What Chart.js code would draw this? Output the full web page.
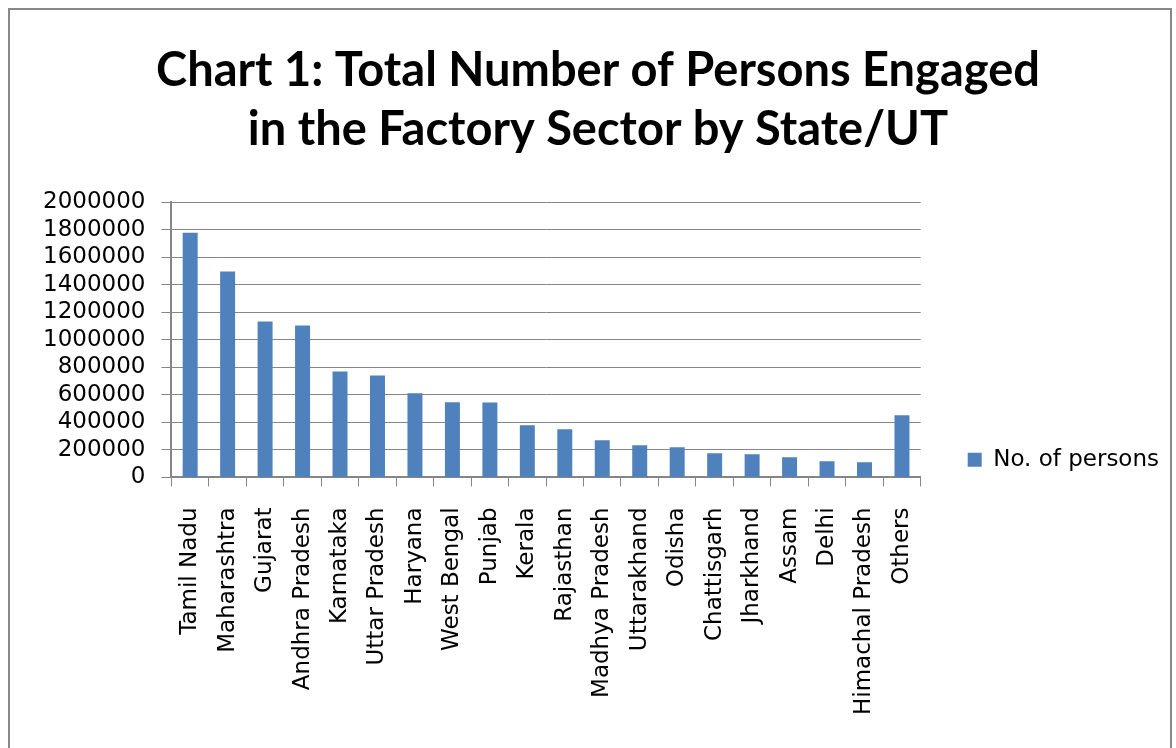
<!DOCTYPE html>
<html>
<head>
<meta charset="utf-8">
<script src="https://cdn.jsdelivr.net/npm/chart.js@4.4.1/dist/chart.umd.min.js"></script>
<style>
  body { margin: 0; background: #fff; }
  #frame {
    position: absolute; left: 8px; top: 8px;
    width: 1160px; height: 760px;
    border: 2px solid #888;
  }
  #wrap { position: absolute; left: 0; top: 0; width: 1160px; height: 738px; }
</style>
</head>
<body>
<div id="frame"><div id="wrap"><canvas id="chart"></canvas></div></div>
<script>
// categories and values
const states = ['Tamil Nadu', 'Maharashtra', 'Gujarat', 'Andhra Pradesh', 'Karnataka',
  'Uttar Pradesh', 'Haryana', 'West Bengal', 'Punjab', 'Kerala', 'Rajasthan',
  'Madhya Pradesh', 'Uttarakhand', 'Odisha', 'Chattisgarh', 'Jharkhand', 'Assam',
  'Delhi', 'Himachal Pradesh', 'Others'];
const persons = [1777000, 1495000, 1133000, 1104000, 770000, 741000, 611000, 546000,
  545000, 379000, 350000, 270000, 234000, 220000, 176000, 169000, 147000, 118000,
  111000, 451000];
const titleLines = ['Chart 1: Total Number of Persons Engaged', 'in the Factory Sector by State/UT'];

const labelFont = { family: 'DejaVu Sans', size: 23 };
const gridGray = '#868686';

const ctx = document.getElementById('chart').getContext('2d');
new Chart(ctx, {
  type: 'bar',
  data: {
    labels: states,
    datasets: [{
      label: 'No. of persons',
      data: persons,
      backgroundColor: '#4F81BD',
      barPercentage: 0.4,
      categoryPercentage: 1.0
    }]
  },
  options: {
    responsive: true,
    maintainAspectRatio: false,
    animation: false,
    layout: { padding: { left: 17, right: 1, top: 0, bottom: 12 } },
    plugins: {
      title: {
        display: true,
        text: titleLines,
        color: '#000',
        font: { family: 'Lato', size: 47, weight: 'bold', lineHeight: '59px' },
        padding: { top: 31, bottom: 43 }
      },
      legend: {
        position: 'right',
        align: 'start',
        fullSize: false,
        // blank legend title only pushes the entry down next to the lower bars
        title: { display: true, text: ' ', font: { size: 12 }, padding: { top: 184.8, bottom: 0 } },
        labels: {
          color: '#000',
          font: labelFont,
          boxWidth: 14,
          boxHeight: 14,
          padding: 47
        }
      },
      tooltip: { enabled: false }
    },
    scales: {
      x: {
        grid: { drawOnChartArea: false, offset: true, color: gridGray, tickLength: 9, lineWidth: 1 },
        border: { color: gridGray, width: 2 },
        ticks: { color: '#000', font: labelFont, minRotation: 90, maxRotation: 90, autoSkip: false, padding: 21 }
      },
      y: {
        min: 0,
        max: 2000000,
        grid: { color: gridGray, tickLength: 10, lineWidth: 1 },
        border: { color: gridGray, width: 2 },
        ticks: {
          color: '#000', font: labelFont, stepSize: 200000, padding: 16, autoSkip: false,
          callback: v => String(v)
        }
      }
    }
  }
});
</script>
</body>
</html>
